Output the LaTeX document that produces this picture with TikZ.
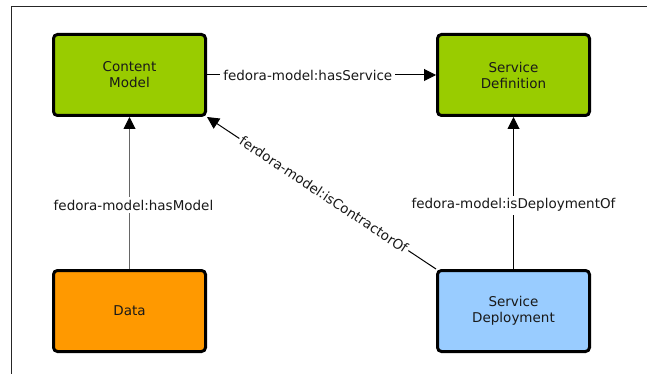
\documentclass[tikz,border=0pt]{standalone}
\usepackage{fontspec}
\setmainfont{DejaVu Sans}
\usetikzlibrary{arrows.meta}
\definecolor{modelgreen}{HTML}{99CC00}
\definecolor{dataorange}{HTML}{FF9900}
\definecolor{deployblue}{HTML}{99CCFF}
\tikzset{
  obj/.style={draw=black, line width=3pt, rounded corners=4pt,
    minimum width=152pt, minimum height=81pt, align=center,
    text=black!90, font=\fontsize{13.5}{16}\selectfont, inner sep=0pt},
  rel/.style={draw=black, line width=1pt, -{Triangle[length=12pt,width=12pt,color=black]}},
  rellabel/.style={fill=white, text=black!90, inner sep=3pt,
    font=\fontsize{13.5}{16}\selectfont}
}
\begin{document}
\begin{tikzpicture}[x=1pt,y=-1pt]
  \useasboundingbox (0,0) rectangle (647,374);
  % frame edges
  \draw[black!85, line width=1pt] (11,374) -- (11,7) -- (647,7);

  \node[obj, fill=modelgreen]  (cm)  at (129.5,75)  {Content\\Model};
  \node[obj, fill=modelgreen]  (sdef) at (513.5,75) {Service\\Definition};
  \node[obj, fill=dataorange]  (data) at (129.5,311) {Data};
  \node[obj, fill=deployblue]  (sdep) at (513.5,311) {Service\\Deployment};

  \draw[rel] (cm) -- node[rellabel, pos=0.44] {fedora-model:hasService} (sdef);
  \draw[rel, draw=black!60] (data) -- node[rellabel, pos=0.42, xshift=4pt] {fedora-model:hasModel} (cm);
  \draw[rel] (sdep) -- node[rellabel, pos=0.42] {fedora-model:isDeploymentOf} (sdef);
  \draw[rel] (sdep.north west) -- node[rellabel, sloped, pos=0.49, inner sep=2pt] {ferdora-model:isContractorOf} (cm.south east);
\end{tikzpicture}
\end{document}
